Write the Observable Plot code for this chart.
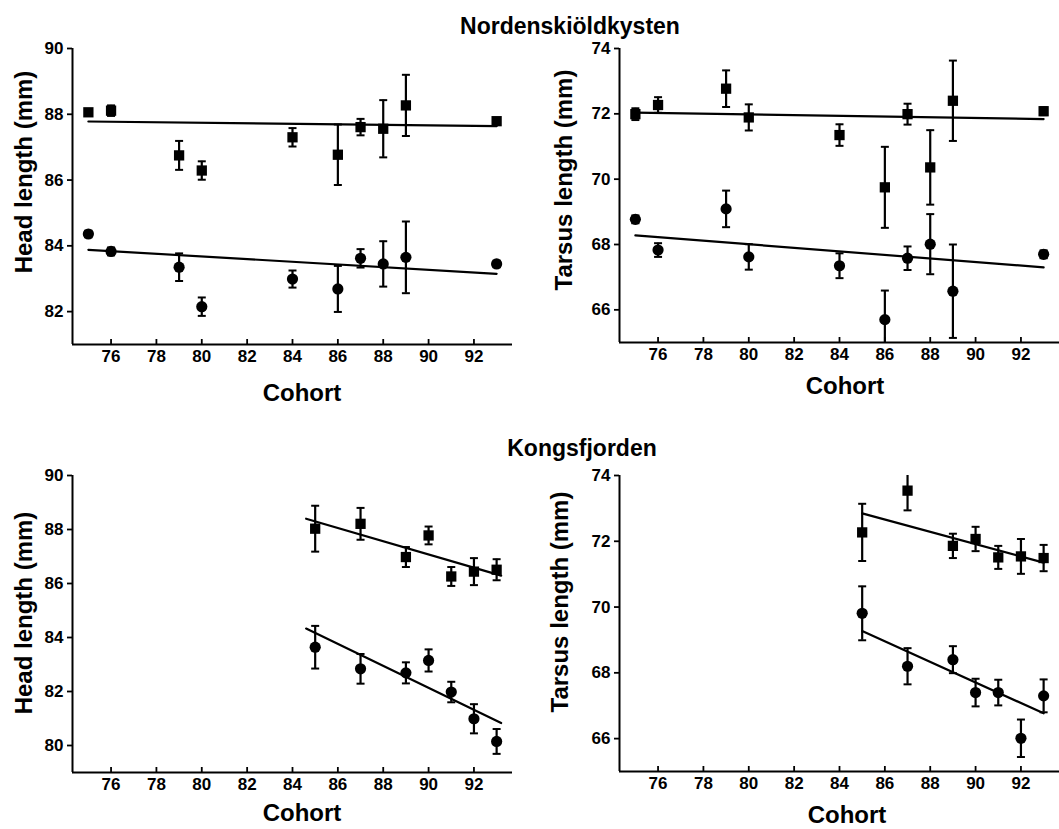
<!DOCTYPE html>
<html><head><meta charset="utf-8">
<script src="https://cdn.jsdelivr.net/npm/d3@7"></script>
<script src="https://cdn.jsdelivr.net/npm/@observablehq/plot@0.6"></script>
<style>
html,body{margin:0;padding:0;background:#fff;}
#root{position:relative;width:1059px;height:829px;overflow:hidden;font-family:"Liberation Sans",Arial,Helvetica,sans-serif;color:#000;}
.panel{position:absolute;}
.t{position:absolute;font-weight:bold;white-space:nowrap;transform:translate(-50%,-50%);line-height:1;}
.ylab{transform:translate(-50%,-50%) rotate(-90deg);}
</style></head><body><div id="root"></div>
<script>
// ---- data ----
const xTicks = [76, 78, 80, 82, 84, 86, 88, 90, 92];
const xDomain = [74.3, 93.7];

const cohortsNord = [75, 76, 79, 80, 84, 86, 87, 88, 89, 93];
const headNordSq    = [88.06, 88.11, 86.75, 86.29, 87.30, 86.77, 87.61, 87.56, 88.27, 87.79];
const headNordSqErr = [0.10, 0.16, 0.44, 0.28, 0.28, 0.92, 0.25, 0.87, 0.93, 0.08];
const headNordCi    = [84.36, 83.83, 83.35, 82.15, 82.99, 82.69, 83.62, 83.45, 83.65, 83.45];
const headNordCiErr = [0.10, 0.12, 0.42, 0.28, 0.26, 0.70, 0.28, 0.69, 1.09, 0.10];
const tarsNordSq    = [71.99, 72.27, 72.77, 71.89, 71.35, 69.75, 71.99, 70.36, 72.40, 72.08];
const tarsNordSqErr = [0.18, 0.24, 0.56, 0.40, 0.33, 1.24, 0.32, 1.14, 1.23, 0.12];
const tarsNordCi    = [68.77, 67.83, 69.09, 67.62, 67.35, 65.70, 67.58, 68.01, 66.57, 67.70];
const tarsNordCiErr = [0.12, 0.21, 0.56, 0.39, 0.38, 0.89, 0.36, 0.92, 1.43, 0.12];

const cohortsKong = [85, 87, 89, 90, 91, 92, 93];
const headKongSq    = [88.03, 88.21, 86.98, 87.78, 86.26, 86.44, 86.51];
const headKongSqErr = [0.85, 0.59, 0.37, 0.33, 0.35, 0.50, 0.39];
const headKongCi    = [83.64, 82.84, 82.69, 83.15, 81.98, 80.99, 80.15];
const headKongCiErr = [0.79, 0.55, 0.39, 0.41, 0.38, 0.54, 0.46];
const tarsKongSq    = [72.27, 73.54, 71.86, 72.07, 71.51, 71.54, 71.49];
const tarsKongSqErr = [0.87, 0.60, 0.37, 0.37, 0.35, 0.53, 0.40];
const tarsKongCi    = [69.81, 68.20, 68.40, 67.40, 67.40, 66.01, 67.30];
const tarsKongCiErr = [0.82, 0.55, 0.41, 0.42, 0.39, 0.57, 0.50];

// fitted regression lines (end points)
const fitNordX = [75, 93];
const fitHeadNordSq = [87.78, 87.64];
const fitHeadNordCi = [83.88, 83.15];
const fitTarsNordSq = [72.04, 71.84];
const fitTarsNordCi = [68.28, 67.30];
const fitKongHeadX = [84.6, 93.2];
const fitHeadKongSq = [88.40, 86.29];
const fitHeadKongCi = [84.33, 80.83];
const fitKongTarsX = [85, 93];
const fitTarsKongSq = [72.85, 71.35];
const fitTarsKongCi = [69.27, 66.77];

const headNordTicks = [82, 84, 86, 88, 90];
const headKongTicks = [80, 82, 84, 86, 88, 90];
const tarsTicks = [66, 68, 70, 72, 74];

// ---- helpers ----
const FONT = '"Liberation Sans", Arial, Helvetica, sans-serif';
const capSymbol = {
  draw(ctx, size) {
    const w = Math.sqrt(size / Math.PI);
    ctx.moveTo(-w, 0); ctx.lineTo(w, 0);
  }
};
function rows(xs, ys, es) {
  return xs.map((x, i) => ({x, y: ys[i], lo: ys[i] - es[i], hi: ys[i] + es[i]}));
}
function fitRows(xs, ys) { return xs.map((x, i) => ({x, y: ys[i]})); }

function panel(o) {
  const innerH = o.height - o.mT - o.mB;
  const marks = [
    Plot.ruleY([o.yDomain[0]], {strokeWidth: 2}),
    Plot.ruleX([xDomain[0]], {strokeWidth: 2}),
    Plot.ruleX(xTicks, {insetTop: innerH - 5, strokeWidth: 1.8}),
    Plot.axisY({ticks: o.yTicks, tickSize: 5, tickFormat: () => "", strokeWidth: 1.8, label: null}),
    Plot.text(xTicks, {x: d => d, text: d => String(d), frameAnchor: "bottom", lineAnchor: "top", dy: 5,
      fontSize: 17, fontWeight: "bold", fontFamily: FONT, fill: "black"}),
    Plot.text(o.yTicks, {y: d => d, text: d => String(d), frameAnchor: "left", textAnchor: "end", dx: -9,
      fontSize: 17, fontWeight: "bold", fontFamily: FONT, fill: "black"})
  ];
  for (const f of o.fits) marks.push(Plot.line(fitRows(f.x, f.y), {x: "x", y: "y", strokeWidth: 2.2}));
  for (const s of o.series) {
    const d = rows(s.x, s.y, s.e);
    marks.push(Plot.ruleX(d, {x: "x", y1: "lo", y2: "hi", strokeWidth: 2.2, clip: true}));
    marks.push(Plot.dot(d, {x: "x", y: "hi", symbol: capSymbol, r: 4, stroke: "black", strokeWidth: 2, fill: "none", clip: true}));
    marks.push(Plot.dot(d, {x: "x", y: "lo", symbol: capSymbol, r: 4, stroke: "black", strokeWidth: 2, fill: "none", clip: true}));
    marks.push(Plot.dot(d, {x: "x", y: "y", symbol: s.symbol, r: s.symbol === "square" ? 5.8 : 5.6, fill: "black", stroke: "none"}));
  }
  const chart = Plot.plot({
    width: o.width, height: o.height,
    marginLeft: o.mL, marginRight: o.mR, marginTop: o.mT, marginBottom: o.mB,
    x: {domain: xDomain, label: null, axis: null},
    y: {domain: o.yDomain, label: null},
    style: {background: "transparent", fontFamily: FONT, color: "black", overflow: "visible"},
    marks
  });
  const div = document.createElement("div");
  div.className = "panel";
  div.style.left = o.left + "px"; div.style.top = o.top + "px";
  div.appendChild(chart);
  document.getElementById("root").appendChild(div);
}
function label(text, x, y, size, rotate) {
  const el = document.createElement("div");
  el.className = "t" + (rotate ? " ylab" : "");
  el.style.left = x + "px"; el.style.top = y + "px"; el.style.fontSize = size + "px";
  el.textContent = text;
  document.getElementById("root").appendChild(el);
}

// ---- panels ----
panel({left: 0, top: 0, width: 530, height: 410, mL: 72, mR: 18, mT: 48, mB: 66,
  yDomain: [81, 90], yTicks: headNordTicks,
  fits: [{x: fitNordX, y: fitHeadNordSq}, {x: fitNordX, y: fitHeadNordCi}],
  series: [{x: cohortsNord, y: headNordSq, e: headNordSqErr, symbol: "square"},
           {x: cohortsNord, y: headNordCi, e: headNordCiErr, symbol: "circle"}]});
panel({left: 530, top: 0, width: 529, height: 410, mL: 89, mR: 0, mT: 48, mB: 68,
  yDomain: [65, 74], yTicks: tarsTicks,
  fits: [{x: fitNordX, y: fitTarsNordSq}, {x: fitNordX, y: fitTarsNordCi}],
  series: [{x: cohortsNord, y: tarsNordSq, e: tarsNordSqErr, symbol: "square"},
           {x: cohortsNord, y: tarsNordCi, e: tarsNordCiErr, symbol: "circle"}]});
panel({left: 0, top: 410, width: 530, height: 419, mL: 72, mR: 18, mT: 65, mB: 57,
  yDomain: [79, 90], yTicks: headKongTicks,
  fits: [{x: fitKongHeadX, y: fitHeadKongSq}, {x: fitKongHeadX, y: fitHeadKongCi}],
  series: [{x: cohortsKong, y: headKongSq, e: headKongSqErr, symbol: "square"},
           {x: cohortsKong, y: headKongCi, e: headKongCiErr, symbol: "circle"}]});
panel({left: 530, top: 410, width: 529, height: 419, mL: 89, mR: 0, mT: 65, mB: 58,
  yDomain: [65, 74], yTicks: tarsTicks,
  fits: [{x: fitKongTarsX, y: fitTarsKongSq}, {x: fitKongTarsX, y: fitTarsKongCi}],
  series: [{x: cohortsKong, y: tarsKongSq, e: tarsKongSqErr, symbol: "square"},
           {x: cohortsKong, y: tarsKongCi, e: tarsKongCiErr, symbol: "circle"}]});

// ---- text ----
label("Nordenskiöldkysten", 570, 26, 23);
label("Kongsfjorden", 582, 448, 23);
label("Head length (mm)", 24, 172, 24, true);
label("Tarsus length (mm)", 564, 180, 24, true);
label("Head length (mm)", 24, 613, 24, true);
label("Tarsus length (mm)", 560, 602, 24, true);
label("Cohort", 302, 393, 24);
label("Cohort", 845, 386, 24);
label("Cohort", 302, 813, 24);
label("Cohort", 847, 815, 24);
</script></body></html>
